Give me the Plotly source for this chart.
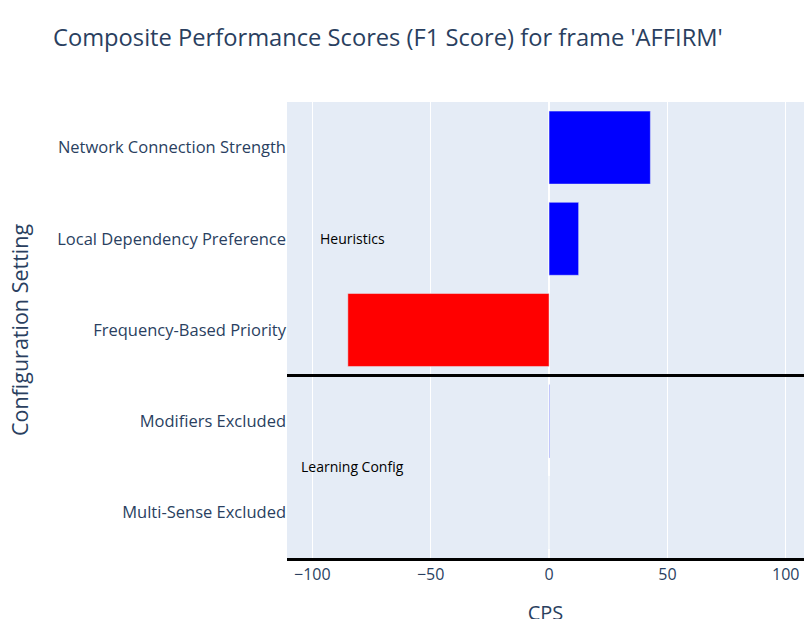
import plotly.graph_objects as go

categories = ["Multi-Sense Excluded", "Modifiers Excluded", "Frequency-Based Priority",
              "Local Dependency Preference", "Network Connection Strength"]
cps_values = [0.0, 0.2, -85.0, 12.5, 42.8]
bar_colors = ["blue", "blue", "red", "blue", "blue"]
group_labels = ["Heuristics", "Learning Config"]
group_label_y = [3, 0.5]
group_label_x = [-83, -83]
separator_y = [1.5]

fig = go.Figure()
fig.add_trace(go.Bar(
    x=cps_values, y=categories, orientation="h",
    marker=dict(color=bar_colors),
    showlegend=False,
))

for yv in separator_y:
    fig.add_shape(type="line", xref="paper", x0=0, x1=1, yref="y", y0=yv, y1=yv,
                  line=dict(color="black", width=3))

for lbl, xv, yv in zip(group_labels, group_label_x, group_label_y):
    fig.add_annotation(x=xv, y=yv, text=lbl, showarrow=False,
                       font=dict(size=14, color="black"))

fig.update_layout(
    width=804, height=630,
    margin=dict(l=287, r=0, t=102, b=72),
    title=dict(text="Composite Performance Scores (F1 Score) for frame 'AFFIRM'",
               x=53/804, xanchor="left", xref="container",
               y=1 - 38/630, yanchor="middle", yref="container",
               font=dict(size=23.7)),
    xaxis=dict(title=dict(text="CPS", font=dict(size=20), standoff=22), range=[-110.7, 107.7],
               tickfont=dict(size=16), tickvals=[-100, -50, 0, 50, 100],
               showline=True, linecolor="black", linewidth=3, automargin=True),
    yaxis=dict(title=dict(text="Configuration Setting", font=dict(size=21.5), standoff=22),
               tickfont=dict(size=16.5), range=[-0.5, 4.5], automargin=True),
)

fig.write_html(
    "out.html",
    config={"displayModeBar": False},
    post_script=("document.documentElement.style.overflow='hidden';"
                 "document.body.style.overflow='hidden';"
                 "document.body.style.margin='0';"),
)
